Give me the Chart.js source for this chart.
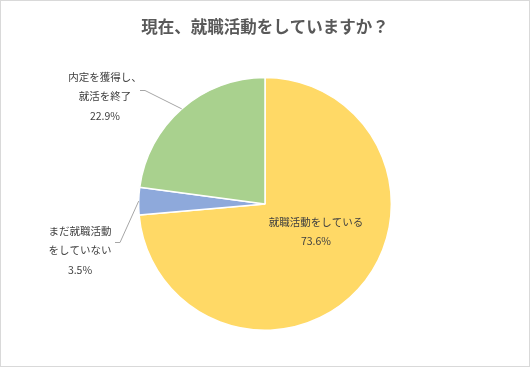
<!DOCTYPE html>
<html>
<head>
<meta charset="utf-8">
<script src="https://cdn.jsdelivr.net/npm/chart.js@4"></script>
<style>
    html, body { margin: 0; padding: 0; background: #fff; }
    #wrap { width: 530px; height: 367px; }
</style>
</head>
<body>
<div id="wrap"><canvas id="myChart" width="530" height="367"></canvas></div>
<script>
"use strict";

// Data
const categories = ['就職活動をしている', 'まだ就職活動をしていない', '内定を獲得し、就活を終了'];
const labelLines = [['就職活動をしている'], ['まだ就職活動', 'をしていない'], ['内定を獲得し、', '就活を終了']];
const percentages = [73.6, 3.5, 22.9];
const sliceColors = ['#FFD966', '#8EA9DB', '#A9D18E'];

const FONT = "'Noto Sans CJK JP', 'Noto Sans', sans-serif";

// Label placement (text centre x, first line y, elbow of leader line)
const labelPlacement = [
    { x: 316, y: 222, leader: null },
    { x: 80, y: 231, elbow: [120, 242], end: [115, 242] },
    { x: 105, y: 77, elbow: [145, 90], end: [140, 90] }
];

// Draws the data labels with leader lines and the grey frame
const labelPlugin = {
    id: 'pieLabels',
    afterDatasetsDraw(chart) {
        const ctx = chart.ctx;
        const meta = chart.getDatasetMeta(0);
        ctx.save();
        ctx.font = '10.5px ' + FONT;
        ctx.fillStyle = '#404040';
        ctx.textAlign = 'center';
        ctx.textBaseline = 'middle';
        meta.data.forEach((arc, i) => {
            const p = labelPlacement[i];
            const lines = labelLines[i].concat([percentages[i].toFixed(1) + '%']);
            lines.forEach((t, j) => ctx.fillText(t, p.x, p.y + j * 19.5));
            if (p.elbow) {
                const mid = (arc.startAngle + arc.endAngle) / 2;
                const sx = arc.x + Math.cos(mid) * arc.outerRadius;
                const sy = arc.y + Math.sin(mid) * arc.outerRadius;
                ctx.strokeStyle = '#A6A6A6';
                ctx.lineWidth = 1;
                ctx.beginPath();
                ctx.moveTo(sx, sy);
                ctx.lineTo(p.elbow[0], p.elbow[1] + 0.5);
                ctx.lineTo(p.end[0], p.end[1] + 0.5);
                ctx.stroke();
            }
        });
        ctx.strokeStyle = '#D9D9D9';
        ctx.lineWidth = 1;
        ctx.strokeRect(0.5, 0.5, chart.width - 1, chart.height - 1);
        ctx.restore();
    }
};

new Chart(document.getElementById('myChart'), {
    type: 'pie',
    data: {
        labels: categories,
        datasets: [{
            data: percentages,
            backgroundColor: sliceColors,
            borderColor: '#FFFFFF',
            borderWidth: 1.5
        }]
    },
    options: {
        responsive: false,
        animation: false,
        layout: { padding: { top: 0, bottom: 36 } },
        plugins: {
            legend: { display: false },
            tooltip: { enabled: false },
            title: {
                display: true,
                text: '現在、就職活動をしていますか？',
                color: '#595959',
                font: { family: FONT, size: 16.5, weight: 'bold', lineHeight: 1.2 },
                padding: { top: 17, bottom: 40 }
            }
        }
    },
    plugins: [labelPlugin]
});
</script>
</body>
</html>
